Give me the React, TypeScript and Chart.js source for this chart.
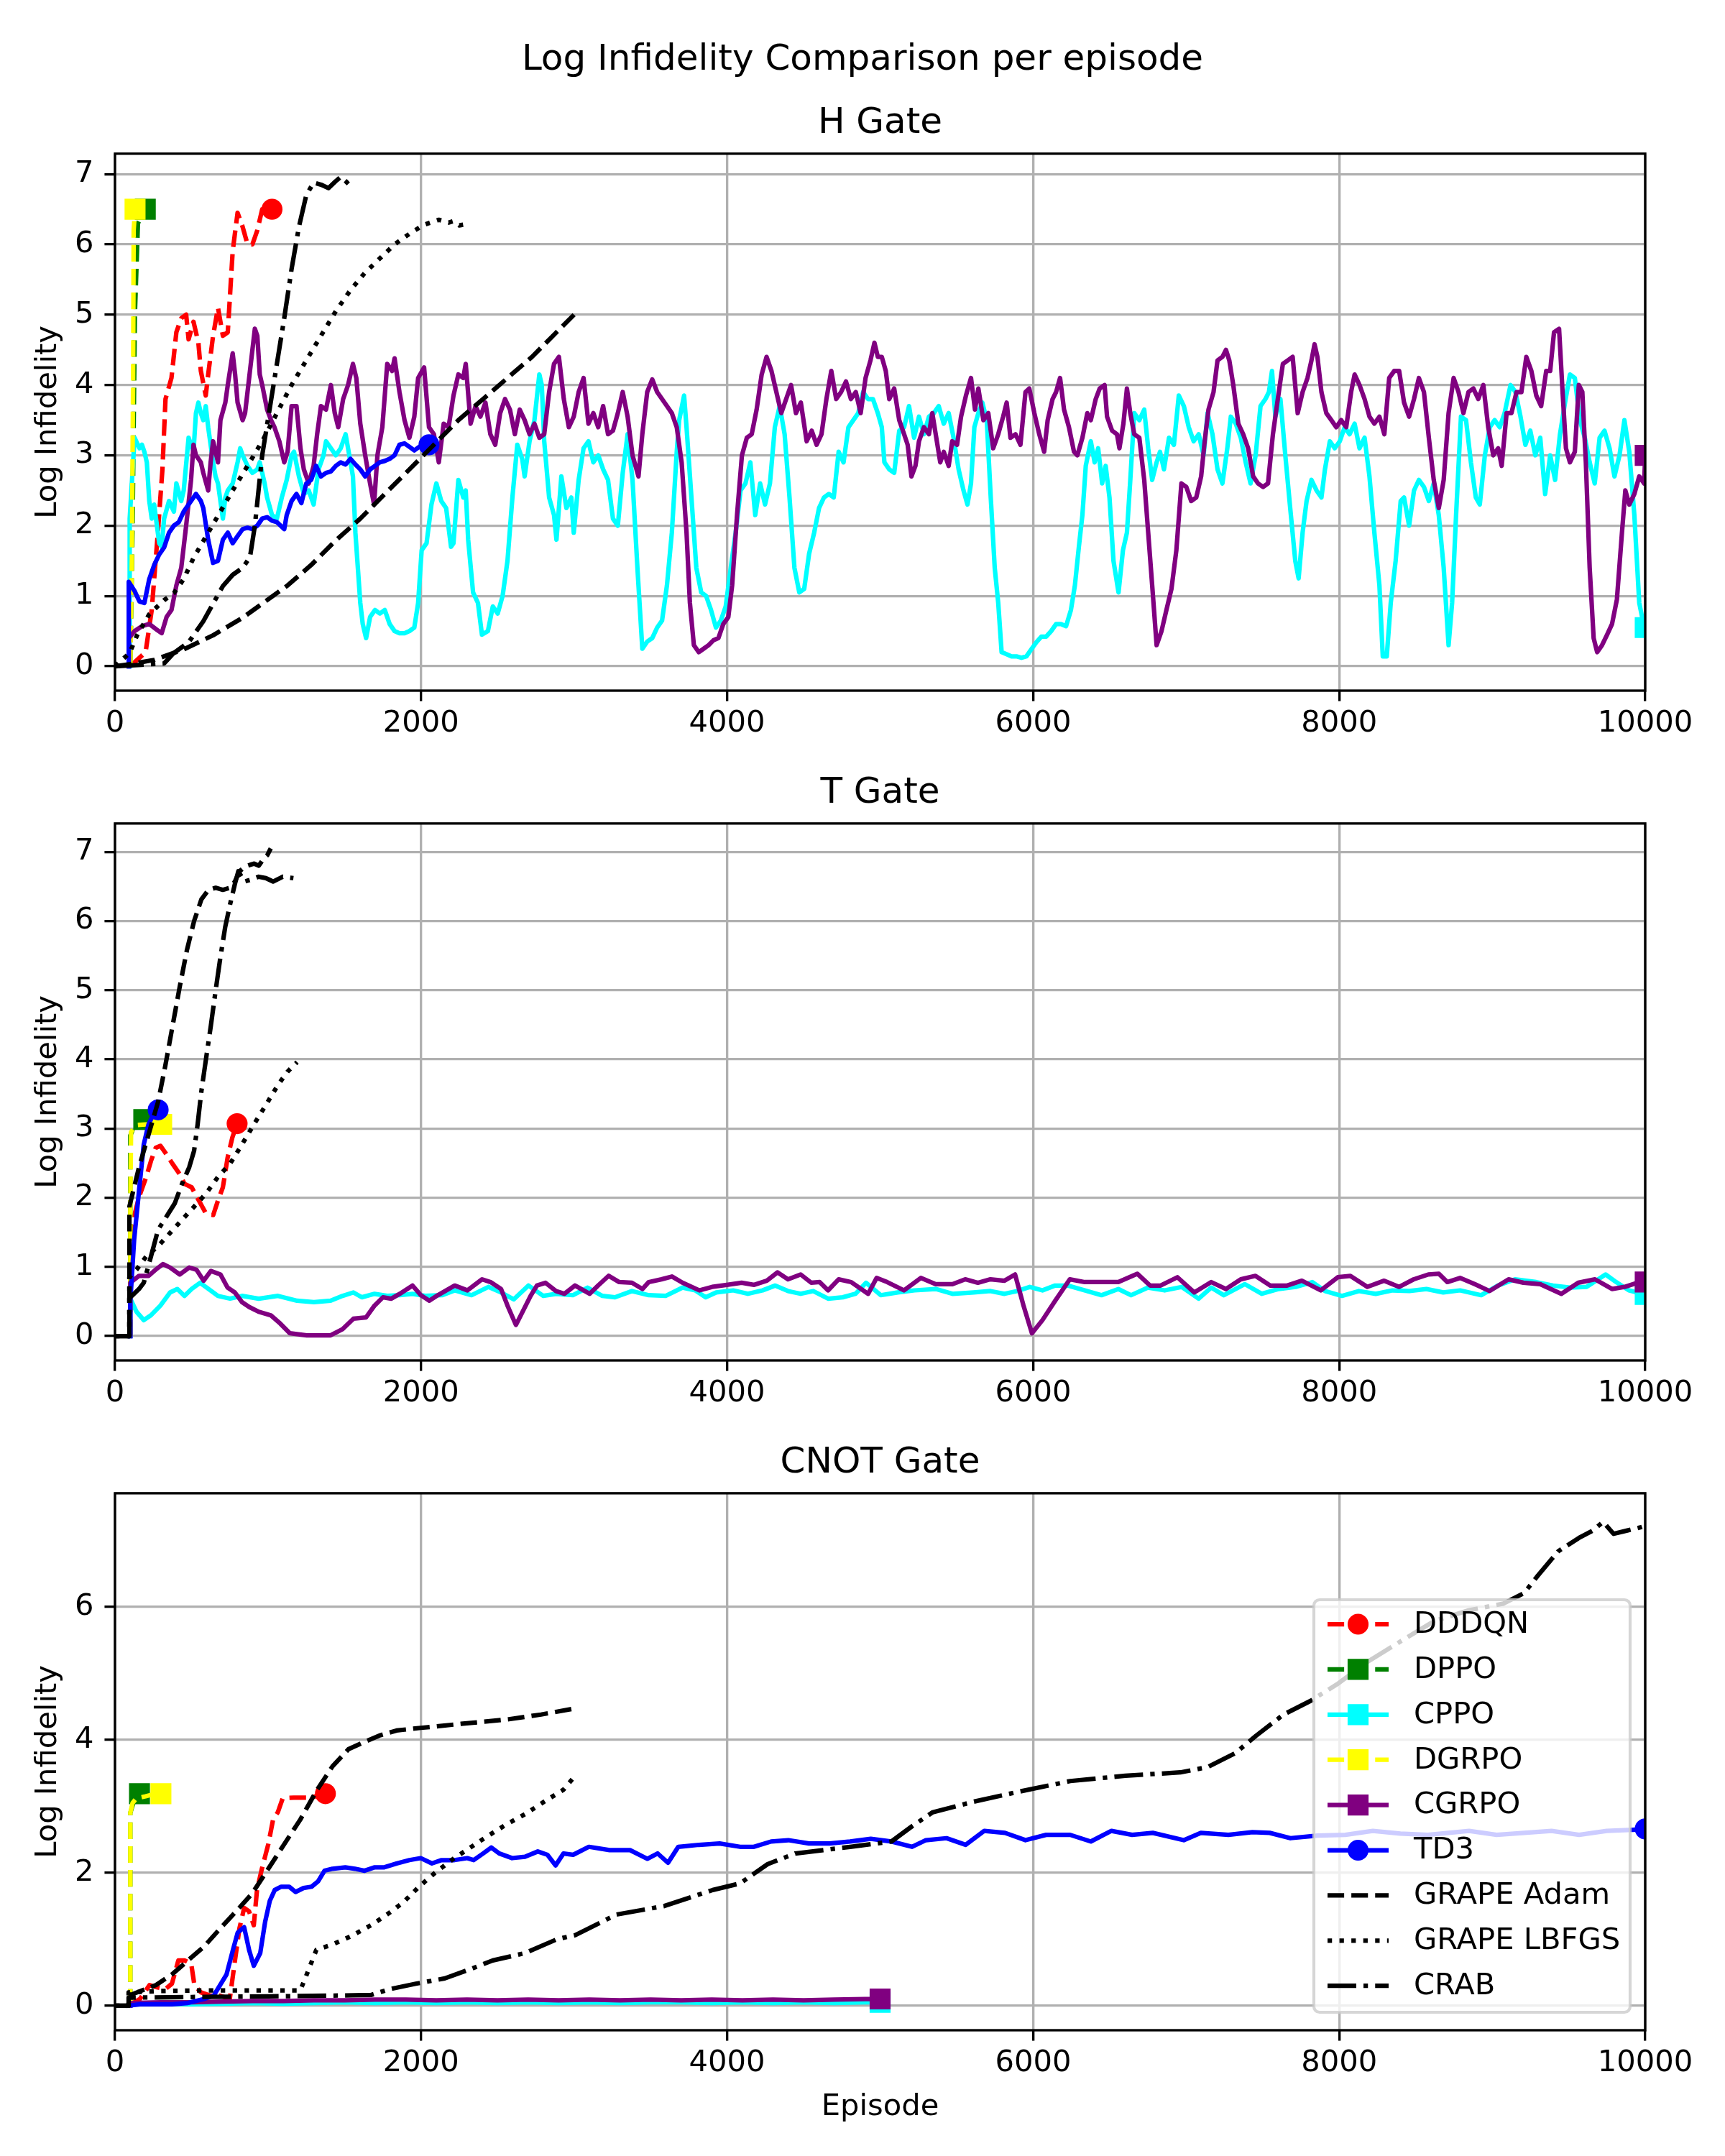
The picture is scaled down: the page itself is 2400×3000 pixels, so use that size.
import { useEffect, useRef } from 'react';
import { Chart, registerables } from 'chart.js';

Chart.register(...registerables);

type Pt = [number, number];

// series order, colours and styles (same for every gate)
const seriesNames = ['DDDQN', 'DPPO', 'CPPO', 'DGRPO', 'CGRPO', 'TD3', 'GRAPE Adam', 'GRAPE LBFGS', 'CRAB'];
const seriesColors = ['#ff0000', '#008000', '#00ffff', '#ffff00', '#800080', '#0000ff', '#000000', '#000000', '#000000'];
const seriesStyles = ['dashed', 'dashed', 'solid', 'dashed', 'solid', 'solid', 'dashed', 'dotted', 'dashdot'];
const seriesMarkers = ['circle', 'rect', 'rect', 'rect', 'rect', 'circle', '', '', ''];

const xTicks = [0, 2000, 4000, 6000, 8000, 10000];
const yTicksH = [0, 1, 2, 3, 4, 5, 6, 7];
const yTicksT = [0, 1, 2, 3, 4, 5, 6, 7];
const yTicksC = [0, 2, 4, 6];

// ---------- H Gate ----------
const hDddqn: Pt[] = [[100,0],[200,0.2],[240,0.8],[280,1.9],[310,2.8],[330,3.8],[369,4.1],[401,4.75],[433,4.95],[465,5.0],[481,4.65],[513,4.9],[545,4.6],[561,4.2],[593,3.85],[609,4.15],[641,4.7],[673,5.1],[705,4.7],[737,4.75],[769,5.9],[801,6.45],[834,6.25],[866,6.0],[898,6.0],[930,6.2],[962,6.5],[1026,6.5]];
const hDppo: Pt[] = [[100,0],[115,2.0],[130,5.0],[150,6.3],[198,6.5]];
const hCppo: Pt[] = [[96,0],[96,2.1],[128,3.25],[160,3.1],[176,3.15],[192,3.05],[208,2.9],[224,2.35],[240,2.1],[256,2.3],[289,1.75],[305,1.7],[321,2.1],[353,2.35],[385,2.2],[401,2.6],[433,2.35],[449,2.5],[481,3.25],[513,3.05],[529,3.6],[545,3.75],[561,3.6],[577,3.5],[593,3.7],[609,3.4],[625,3.15],[641,2.9],[657,2.7],[673,2.6],[689,2.35],[705,2.1],[721,2.4],[737,2.5],[769,2.6],[801,2.9],[818,3.1],[834,3.0],[866,2.85],[898,2.75],[930,2.8],[946,2.9],[962,2.75],[978,2.6],[994,2.4],[1026,2.15],[1058,2.1],[1090,2.4],[1122,2.65],[1154,3.0],[1170,3.05],[1202,2.7],[1234,2.45],[1266,2.5],[1298,2.3],[1330,2.8],[1363,3.0],[1379,3.2],[1411,3.1],[1443,3.0],[1475,3.1],[1507,3.3],[1539,2.9],[1555,2.7],[1571,1.9],[1587,1.4],[1603,0.9],[1619,0.6],[1641,0.4],[1667,0.7],[1699,0.8],[1731,0.75],[1763,0.8],[1795,0.6],[1827,0.5],[1859,0.47],[1892,0.47],[1924,0.5],[1956,0.55],[1981,0.9],[2004,1.65],[2036,1.75],[2068,2.3],[2100,2.6],[2132,2.35],[2164,2.25],[2196,1.7],[2212,1.75],[2244,2.65],[2276,2.4],[2292,2.5],[2308,1.8],[2340,1.05],[2372,0.9],[2398,0.45],[2437,0.5],[2469,0.85],[2501,0.75],[2533,1.0],[2565,1.5],[2597,2.4],[2629,3.15],[2661,2.95],[2677,2.7],[2709,3.2],[2741,3.5],[2773,4.15],[2789,4.0],[2805,3.2],[2837,2.4],[2869,2.15],[2885,1.8],[2917,2.7],[2950,2.25],[2982,2.4],[2998,1.9],[3030,2.65],[3062,3.1],[3094,3.2],[3126,2.9],[3158,3.0],[3190,2.8],[3222,2.65],[3254,2.1],[3286,2.0],[3318,2.75],[3350,3.3],[3382,2.65],[3414,1.4],[3446,0.25],[3478,0.35],[3511,0.4],[3543,0.55],[3575,0.65],[3607,1.15],[3639,1.9],[3671,3.05],[3687,3.5],[3719,3.85],[3735,3.4],[3767,2.4],[3799,1.4],[3831,1.05],[3863,1.0],[3895,0.8],[3927,0.55],[3959,0.65],[3991,0.85],[4024,1.4],[4056,1.9],[4088,2.5],[4120,2.6],[4152,2.9],[4184,2.15],[4216,2.6],[4248,2.3],[4280,2.6],[4312,3.4],[4344,3.7],[4376,3.3],[4408,2.4],[4440,1.4],[4472,1.05],[4504,1.1],[4536,1.6],[4569,1.9],[4601,2.25],[4633,2.4],[4665,2.45],[4697,2.4],[4729,3.05],[4761,2.9],[4793,3.4],[4825,3.5],[4857,3.6],[4889,3.9],[4921,3.8],[4953,3.8],[4985,3.6],[5011,3.4],[5028,2.9],[5060,2.8],[5092,2.75],[5125,3.35],[5157,3.4],[5189,3.7],[5222,3.25],[5254,3.55],[5286,3.3],[5319,3.55],[5351,3.6],[5383,3.7],[5416,3.45],[5448,3.6],[5480,3.25],[5513,2.8],[5545,2.5],[5571,2.3],[5594,2.6],[5616,3.4],[5642,3.6],[5668,3.75],[5697,3.5],[5723,2.4],[5749,1.4],[5772,0.9],[5794,0.2],[5827,0.17],[5859,0.14],[5891,0.14],[5924,0.12],[5956,0.14],[5988,0.24],[6021,0.34],[6053,0.42],[6085,0.42],[6118,0.5],[6150,0.6],[6182,0.6],[6215,0.57],[6247,0.8],[6273,1.15],[6299,1.7],[6322,2.15],[6344,2.85],[6377,3.2],[6402,2.9],[6425,3.1],[6451,2.6],[6474,2.85],[6499,2.4],[6525,1.5],[6558,1.05],[6587,1.65],[6613,1.9],[6635,2.65],[6661,3.6],[6694,3.5],[6726,3.65],[6752,3.1],[6778,2.65],[6807,2.9],[6829,3.05],[6855,2.8],[6888,3.25],[6920,3.15],[6952,3.85],[6985,3.7],[7017,3.4],[7049,3.2],[7082,3.3],[7114,3.0],[7140,3.6],[7172,3.3],[7205,2.8],[7237,2.6],[7269,3.1],[7292,3.55],[7324,3.45],[7357,3.25],[7389,2.9],[7421,2.6],[7454,3.0],[7486,3.7],[7518,3.8],[7541,3.9],[7561,4.2],[7583,3.55],[7616,3.8],[7648,3.0],[7680,2.25],[7713,1.5],[7735,1.25],[7761,1.9],[7787,2.35],[7819,2.65],[7852,2.5],[7884,2.4],[7907,2.8],[7939,3.2],[7971,3.1],[8004,3.2],[8036,3.4],[8068,3.3],[8101,3.45],[8133,3.1],[8166,3.25],[8198,2.7],[8230,1.9],[8263,1.15],[8285,0.14],[8311,0.14],[8337,0.9],[8369,1.5],[8402,2.35],[8424,2.4],[8457,2.0],[8489,2.5],[8521,2.65],[8554,2.55],[8586,2.35],[8618,2.6],[8651,2.15],[8683,1.4],[8715,0.3],[8738,0.9],[8764,2.15],[8796,3.55],[8829,3.5],[8861,2.9],[8893,2.4],[8919,2.3],[8952,3.0],[8984,3.4],[9016,3.5],[9049,3.4],[9081,3.6],[9120,4.0],[9152,3.9],[9185,3.55],[9217,3.15],[9249,3.35],[9282,3.0],[9314,3.25],[9346,2.45],[9379,3.0],[9411,2.65],[9443,3.3],[9476,3.75],[9508,4.15],[9540,4.1],[9573,3.5],[9605,3.25],[9637,2.9],[9670,2.6],[9702,3.25],[9734,3.35],[9767,3.1],[9799,2.7],[9832,3.0],[9864,3.5],[9896,3.05],[9929,2.15],[9961,0.9],[9993,0.55],[10000,0.55]];
const hDgrpo: Pt[] = [[100,0],[110,1.5],[118,4.0],[122,6.2],[131,6.5]];
const hCgrpo: Pt[] = [[90,0],[90,0.4],[128,0.5],[176,0.57],[224,0.6],[273,0.52],[305,0.47],[337,0.7],[369,0.8],[401,1.15],[433,1.4],[465,2.0],[497,2.65],[513,3.15],[529,3.0],[561,2.9],[577,2.75],[609,2.5],[625,2.9],[641,3.2],[673,2.9],[689,3.5],[721,3.75],[737,4.0],[769,4.45],[785,4.15],[801,3.75],[834,3.5],[850,3.6],[882,4.2],[914,4.8],[930,4.7],[946,4.15],[962,4.0],[994,3.65],[1020,3.5],[1042,3.4],[1074,3.2],[1106,2.9],[1128,3.05],[1154,3.7],[1186,3.7],[1212,3.1],[1234,2.8],[1266,2.6],[1298,2.85],[1321,3.3],[1346,3.7],[1379,3.65],[1411,4.0],[1436,3.6],[1459,3.4],[1491,3.8],[1523,4.0],[1555,4.3],[1577,4.1],[1603,3.45],[1635,3.0],[1667,2.6],[1693,2.3],[1715,3.0],[1747,3.4],[1779,4.3],[1811,4.2],[1827,4.38],[1859,3.9],[1892,3.5],[1924,3.25],[1956,3.55],[1981,4.1],[2020,4.25],[2052,3.4],[2084,3.3],[2116,2.9],[2148,3.45],[2180,3.4],[2212,3.85],[2244,4.15],[2276,4.1],[2292,4.3],[2324,3.45],[2356,3.7],[2388,3.55],[2421,3.75],[2453,3.3],[2485,3.15],[2517,3.6],[2549,3.8],[2581,3.65],[2613,3.3],[2645,3.65],[2677,3.5],[2709,3.3],[2741,3.45],[2773,3.25],[2805,3.3],[2837,3.9],[2869,4.3],[2901,4.4],[2933,3.8],[2966,3.4],[2998,3.55],[3030,3.9],[3062,4.1],[3094,3.45],[3126,3.6],[3158,3.4],[3190,3.7],[3222,3.3],[3254,3.35],[3286,3.6],[3318,3.9],[3350,3.55],[3382,3.0],[3421,2.7],[3446,3.3],[3478,3.9],[3511,4.08],[3543,3.9],[3575,3.8],[3607,3.7],[3639,3.6],[3671,3.4],[3703,2.9],[3735,1.9],[3757,0.9],[3783,0.3],[3815,0.2],[3847,0.25],[3879,0.3],[3911,0.37],[3943,0.4],[3975,0.6],[4008,0.7],[4033,1.15],[4065,2.15],[4097,3.0],[4129,3.25],[4161,3.3],[4193,3.65],[4226,4.15],[4258,4.4],[4290,4.2],[4322,3.9],[4354,3.6],[4386,3.8],[4418,4.0],[4450,3.6],[4482,3.75],[4520,3.2],[4553,3.35],[4585,3.15],[4617,3.3],[4649,3.8],[4681,4.2],[4713,3.8],[4745,3.9],[4777,4.05],[4809,3.8],[4841,3.9],[4873,3.6],[4905,4.1],[4937,4.35],[4963,4.6],[4985,4.4],[5011,4.4],[5037,4.2],[5060,3.8],[5092,3.95],[5125,3.5],[5157,3.3],[5180,3.15],[5205,2.7],[5231,2.85],[5254,3.2],[5286,3.4],[5319,3.3],[5341,3.6],[5367,3.25],[5393,2.9],[5416,3.05],[5448,2.85],[5471,3.2],[5503,3.15],[5529,3.55],[5561,3.85],[5594,4.1],[5620,3.65],[5642,3.95],[5675,3.5],[5707,3.6],[5739,3.1],[5772,3.3],[5804,3.55],[5827,3.75],[5852,3.25],[5885,3.3],[5917,3.15],[5950,3.9],[5975,3.95],[6008,3.6],[6040,3.3],[6072,3.05],[6095,3.5],[6127,3.8],[6150,3.9],[6176,4.1],[6202,3.65],[6234,3.4],[6267,3.05],[6289,3.0],[6322,3.25],[6354,3.6],[6377,3.5],[6409,3.8],[6435,3.95],[6467,4.0],[6483,3.55],[6516,3.35],[6548,3.3],[6564,3.1],[6590,3.45],[6613,3.95],[6635,3.6],[6661,3.3],[6694,3.25],[6726,2.65],[6752,1.9],[6778,1.15],[6807,0.3],[6839,0.5],[6871,0.8],[6904,1.1],[6936,1.65],[6969,2.6],[7001,2.55],[7033,2.35],[7066,2.4],[7098,2.7],[7121,3.2],[7146,3.65],[7179,3.9],[7205,4.35],[7237,4.4],[7260,4.5],[7282,4.35],[7308,4.0],[7341,3.45],[7373,3.3],[7405,3.1],[7438,2.7],[7470,2.6],[7502,2.55],[7535,2.6],[7567,3.3],[7599,3.8],[7632,4.3],[7664,4.35],[7696,4.4],[7729,3.6],[7761,3.9],[7793,4.1],[7819,4.35],[7839,4.58],[7858,4.4],[7884,3.9],[7916,3.6],[7949,3.5],[7981,3.4],[8013,3.5],[8046,3.4],[8078,3.9],[8101,4.15],[8133,4.0],[8166,3.8],[8198,3.55],[8230,3.45],[8263,3.55],[8295,3.3],[8327,4.1],[8360,4.2],[8392,4.2],[8424,3.75],[8457,3.55],[8489,3.8],[8521,4.1],[8554,3.9],[8586,3.25],[8618,2.65],[8651,2.25],[8683,2.65],[8715,3.6],[8748,4.1],[8780,3.9],[8812,3.6],[8845,3.9],[8877,3.95],[8909,3.8],[8942,4.0],[8974,3.4],[9007,3.0],[9039,3.1],[9062,2.85],[9094,3.6],[9126,3.6],[9159,3.9],[9191,3.9],[9223,4.4],[9256,4.2],[9288,3.85],[9320,3.7],[9353,4.2],[9379,4.2],[9404,4.75],[9437,4.8],[9460,3.9],[9482,3.1],[9508,2.9],[9540,3.05],[9566,4.0],[9589,3.9],[9612,2.9],[9637,1.4],[9663,0.4],[9686,0.2],[9718,0.3],[9751,0.45],[9783,0.6],[9815,0.95],[9848,1.9],[9870,2.5],[9896,2.3],[9929,2.45],[9961,2.7],[9993,2.6],[10000,3.0]];
const hTd3: Pt[] = [[90,0],[90,1.2],[128,1.07],[160,0.92],[192,0.9],[224,1.24],[256,1.44],[289,1.59],[321,1.69],[353,1.9],[385,2.0],[417,2.05],[449,2.2],[481,2.3],[513,2.4],[529,2.45],[561,2.35],[577,2.25],[609,1.8],[641,1.47],[673,1.5],[705,1.8],[737,1.9],[769,1.75],[801,1.85],[834,1.95],[866,1.97],[898,1.95],[930,2.0],[962,2.1],[994,2.12],[1026,2.07],[1058,2.05],[1106,1.95],[1122,2.15],[1154,2.35],[1186,2.45],[1218,2.32],[1250,2.6],[1282,2.65],[1314,2.85],[1346,2.7],[1379,2.75],[1411,2.77],[1443,2.85],[1475,2.9],[1507,2.87],[1539,2.95],[1571,2.87],[1603,2.8],[1635,2.7],[1667,2.8],[1699,2.85],[1731,2.9],[1763,2.92],[1795,2.95],[1827,3.0],[1859,3.15],[1892,3.17],[1924,3.12],[1956,3.07],[1988,3.12],[2052,3.15]];
const hAdam: Pt[] = [[0,0],[100,0.03],[256,0.09],[449,0.24],[641,0.44],[834,0.69],[962,0.89],[1122,1.14],[1282,1.44],[1443,1.79],[1603,2.1],[1763,2.45],[1924,2.8],[2084,3.15],[2244,3.5],[2405,3.8],[2565,4.1],[2725,4.4],[2885,4.75],[3000,5.0]];
const hLbfgs: Pt[] = [[0,0],[96,0.19],[144,0.44],[224,0.74],[321,0.94],[385,1.04],[449,1.24],[513,1.54],[609,1.9],[689,2.2],[769,2.5],[866,2.85],[962,3.2],[1058,3.6],[1154,4.0],[1250,4.35],[1346,4.7],[1443,5.05],[1539,5.35],[1635,5.6],[1731,5.8],[1827,6.0],[1924,6.15],[2020,6.28],[2116,6.35],[2180,6.31],[2212,6.33],[2250,6.27],[2276,6.28]];
const hCrab: Pt[] = [[0,0],[321,0.04],[385,0.19],[481,0.34],[577,0.64],[641,0.89],[705,1.14],[769,1.3],[834,1.4],[882,1.55],[914,2.0],[962,3.0],[1010,3.65],[1058,4.3],[1106,4.95],[1154,5.65],[1202,6.25],[1250,6.7],[1298,6.88],[1346,6.85],[1395,6.8],[1443,6.9],[1475,6.96],[1507,6.9],[1539,6.83]];

// ---------- T Gate ----------
const tDddqn: Pt[] = [[100,0],[100,1.2],[102,1.49],[125,1.73],[157,2.01],[204,2.3],[235,2.53],[266,2.72],[297,2.75],[329,2.65],[376,2.49],[423,2.34],[454,2.2],[501,2.15],[548,1.96],[595,1.77],[642,1.75],[673,1.96],[705,2.15],[736,2.58],[767,2.87],[798,3.07]];
const tDppo: Pt[] = [[100,0],[100,2.9],[130,3.05],[188,3.13]];
const tCppo: Pt[] = [[100,0],[100,0.54],[141,0.35],[188,0.23],[235,0.3],[297,0.44],[360,0.63],[407,0.68],[454,0.58],[501,0.68],[556,0.77],[611,0.68],[673,0.58],[752,0.54],[830,0.58],[939,0.54],[1065,0.58],[1190,0.51],[1300,0.49],[1409,0.51],[1487,0.58],[1558,0.63],[1613,0.56],[1696,0.61],[1779,0.58],[1861,0.59],[1944,0.61],[2027,0.58],[2137,0.59],[2220,0.66],[2330,0.59],[2440,0.71],[2523,0.63],[2606,0.53],[2702,0.73],[2799,0.58],[2882,0.61],[2992,0.59],[3088,0.7],[3185,0.58],[3267,0.56],[3378,0.65],[3488,0.59],[3598,0.58],[3709,0.7],[3791,0.66],[3860,0.56],[3929,0.63],[4040,0.66],[4136,0.61],[4232,0.66],[4315,0.73],[4398,0.65],[4481,0.61],[4563,0.65],[4660,0.54],[4756,0.56],[4839,0.61],[4908,0.77],[5004,0.59],[5115,0.63],[5225,0.66],[5363,0.68],[5473,0.61],[5611,0.63],[5721,0.65],[5813,0.61],[5895,0.65],[5978,0.71],[6061,0.66],[6144,0.73],[6226,0.73],[6337,0.66],[6447,0.59],[6557,0.68],[6640,0.59],[6750,0.7],[6860,0.66],[6971,0.71],[7081,0.54],[7164,0.7],[7246,0.59],[7384,0.75],[7494,0.61],[7605,0.68],[7715,0.71],[7825,0.78],[7908,0.65],[8018,0.58],[8129,0.65],[8239,0.61],[8349,0.66],[8459,0.65],[8570,0.68],[8680,0.63],[8790,0.66],[8928,0.59],[9038,0.73],[9149,0.82],[9287,0.78],[9397,0.73],[9507,0.7],[9617,0.71],[9741,0.89],[9810,0.78],[9893,0.66],[10000,0.6]];
const tDgrpo: Pt[] = [[100,0],[100,1.85],[105,2.95],[140,3.05],[200,3.06],[305,3.06]];
const tCgrpo: Pt[] = [[100,0],[100,0.77],[157,0.87],[219,0.87],[266,0.96],[313,1.04],[360,0.99],[423,0.89],[485,0.99],[532,0.96],[579,0.8],[626,0.94],[689,0.89],[736,0.7],[783,0.63],[830,0.49],[877,0.42],[939,0.35],[1018,0.3],[1080,0.18],[1143,0.04],[1253,0.01],[1409,0.01],[1487,0.1],[1558,0.25],[1641,0.27],[1696,0.44],[1751,0.56],[1806,0.54],[1861,0.61],[1944,0.73],[1999,0.59],[2054,0.51],[2110,0.59],[2220,0.73],[2303,0.66],[2399,0.82],[2454,0.78],[2523,0.68],[2565,0.44],[2620,0.16],[2661,0.34],[2716,0.58],[2757,0.73],[2813,0.77],[2882,0.65],[2937,0.61],[3006,0.73],[3102,0.61],[3157,0.73],[3226,0.87],[3295,0.78],[3378,0.77],[3447,0.68],[3488,0.78],[3571,0.82],[3640,0.86],[3709,0.77],[3819,0.66],[3902,0.71],[3998,0.74],[4095,0.77],[4177,0.74],[4260,0.8],[4329,0.92],[4398,0.82],[4481,0.89],[4550,0.77],[4605,0.78],[4660,0.66],[4729,0.82],[4811,0.78],[4922,0.61],[4977,0.84],[5046,0.78],[5156,0.66],[5266,0.84],[5363,0.75],[5473,0.75],[5556,0.82],[5639,0.77],[5721,0.82],[5813,0.8],[5882,0.89],[5937,0.44],[5992,0.04],[6061,0.23],[6144,0.51],[6240,0.82],[6337,0.78],[6447,0.78],[6557,0.78],[6681,0.9],[6764,0.73],[6833,0.73],[6943,0.85],[7053,0.63],[7164,0.78],[7260,0.68],[7357,0.82],[7453,0.87],[7550,0.73],[7660,0.73],[7756,0.8],[7880,0.66],[7991,0.85],[8073,0.87],[8184,0.71],[8294,0.8],[8391,0.71],[8487,0.82],[8583,0.89],[8652,0.9],[8707,0.78],[8790,0.84],[8887,0.75],[8983,0.65],[9107,0.82],[9204,0.77],[9314,0.75],[9452,0.61],[9562,0.77],[9672,0.82],[9783,0.68],[9865,0.71],[9948,0.77],[10000,0.78]];
const tTd3: Pt[] = [[100,0],[100,0.5],[125,1.39],[157,2.1],[188,2.77],[219,3.06],[250,3.2],[282,3.27]];
const tAdam: Pt[] = [[0,0],[94,0],[94,1.87],[157,2.44],[219,2.91],[282,3.39],[329,3.91],[376,4.48],[423,5.05],[470,5.58],[517,6.0],[564,6.31],[611,6.45],[658,6.48],[705,6.45],[752,6.48],[783,6.57],[814,6.72],[853,6.79],[908,6.83],[940,6.8],[971,6.9],[995,6.95],[1018,7.05]];
const tLbfgs: Pt[] = [[0,0],[94,0],[94,0.85],[141,0.96],[204,1.15],[282,1.3],[360,1.49],[438,1.68],[517,1.87],[595,2.06],[673,2.3],[752,2.49],[830,2.77],[908,3.06],[986,3.34],[1065,3.63],[1127,3.82],[1190,3.96]];
const tCrab: Pt[] = [[0,0],[94,0],[94,0.55],[110,0.58],[157,0.68],[188,0.77],[235,1.15],[282,1.54],[329,1.7],[391,1.92],[438,2.2],[485,2.44],[517,2.68],[540,3.06],[564,3.53],[595,4.01],[626,4.48],[658,5.0],[689,5.48],[720,5.91],[752,6.24],[783,6.53],[806,6.72],[845,6.57],[892,6.6],[939,6.64],[986,6.62],[1033,6.57],[1096,6.64],[1166,6.62]];

// ---------- CNOT Gate ----------
const cDddqn: Pt[] = [[89,0],[163,0.1],[226,0.31],[268,0.28],[330,0.25],[372,0.33],[414,0.68],[456,0.68],[498,0.63],[519,0.31],[561,0.2],[624,0.15],[687,0.15],[750,0.1],[781,0.63],[813,1.16],[844,1.47],[876,1.42],[907,1.21],[928,1.74],[960,2.06],[1002,2.43],[1033,2.8],[1064,2.91],[1096,3.12],[1169,3.13],[1253,3.13],[1316,3.15],[1375,3.19]];
const cDppo: Pt[] = [[100,0],[100,2.9],[120,3.05],[160,3.19]];
const cCppo: Pt[] = [[100,0],[100,0.02],[300,0.03],[500,0.02],[700,0.03],[900,0.04],[1100,0.03],[1300,0.04],[1500,0.05],[1700,0.04],[1900,0.05],[2100,0.04],[2300,0.05],[2500,0.04],[2700,0.05],[2900,0.04],[3100,0.05],[3300,0.04],[3500,0.05],[3700,0.05],[3900,0.04],[4100,0.05],[4300,0.04],[4500,0.05],[4700,0.04],[4900,0.05],[5000,0.05]];
const cDgrpo: Pt[] = [[100,0],[100,2.9],[115,3.05],[140,3.12],[200,3.15],[250,3.18],[300,3.19]];
const cCgrpo: Pt[] = [[100,0],[100,0.04],[300,0.05],[500,0.05],[700,0.06],[900,0.07],[1100,0.07],[1300,0.08],[1500,0.08],[1700,0.09],[1900,0.09],[2100,0.08],[2300,0.09],[2500,0.08],[2700,0.09],[2900,0.08],[3100,0.09],[3300,0.08],[3500,0.09],[3700,0.08],[3900,0.09],[4100,0.08],[4300,0.09],[4500,0.08],[4700,0.09],[4900,0.1],[5000,0.1]];
const cTd3: Pt[] = [[89,0],[163,0.02],[372,0.02],[477,0.04],[582,0.1],[645,0.15],[687,0.31],[729,0.47],[771,0.84],[802,1.1],[844,1.18],[876,0.84],[907,0.6],[949,0.79],[981,1.26],[1012,1.58],[1044,1.74],[1086,1.79],[1138,1.79],[1180,1.71],[1232,1.77],[1285,1.79],[1327,1.87],[1369,2.03],[1421,2.06],[1505,2.08],[1568,2.06],[1631,2.03],[1694,2.08],[1756,2.08],[1840,2.14],[1924,2.19],[1998,2.22],[2071,2.14],[2134,2.19],[2218,2.19],[2302,2.22],[2344,2.19],[2406,2.29],[2459,2.38],[2511,2.29],[2595,2.22],[2679,2.24],[2763,2.32],[2826,2.27],[2879,2.11],[2931,2.29],[2994,2.27],[3097,2.39],[3232,2.34],[3366,2.34],[3479,2.21],[3546,2.29],[3614,2.15],[3681,2.39],[3816,2.42],[3951,2.44],[4085,2.39],[4175,2.39],[4288,2.47],[4400,2.49],[4535,2.44],[4670,2.44],[4804,2.47],[4939,2.51],[5074,2.47],[5209,2.39],[5299,2.49],[5434,2.52],[5559,2.42],[5681,2.63],[5816,2.6],[5950,2.49],[6085,2.57],[6242,2.57],[6377,2.47],[6512,2.63],[6647,2.57],[6782,2.6],[6984,2.49],[7096,2.6],[7276,2.57],[7433,2.61],[7546,2.6],[7681,2.52],[7860,2.56],[8040,2.57],[8220,2.63],[8400,2.59],[8579,2.57],[8849,2.63],[9029,2.57],[9209,2.6],[9388,2.63],[9568,2.57],[9748,2.63],[9973,2.65],[10000,2.66]];
const cAdam: Pt[] = [[0,0],[89,0],[89,0.15],[268,0.31],[372,0.47],[477,0.68],[582,0.89],[687,1.16],[792,1.42],[897,1.69],[1002,2.06],[1106,2.43],[1211,2.8],[1316,3.23],[1421,3.6],[1526,3.86],[1631,3.97],[1735,4.07],[1840,4.14],[1998,4.18],[2260,4.24],[2574,4.31],[2784,4.38],[3000,4.47]];
const cLbfgs: Pt[] = [[0,0],[89,0],[89,0.2],[300,0.22],[600,0.23],[900,0.23],[1211,0.23],[1253,0.47],[1316,0.84],[1421,0.92],[1547,1.05],[1673,1.21],[1777,1.37],[1882,1.55],[1987,1.79],[2092,2.0],[2218,2.22],[2323,2.38],[2427,2.54],[2553,2.72],[2679,2.88],[2805,3.07],[2931,3.25],[3000,3.44]];
const cCrab: Pt[] = [[0,0],[89,0],[89,0.12],[500,0.13],[1000,0.14],[1400,0.15],[1673,0.16],[1798,0.25],[1966,0.33],[2155,0.41],[2323,0.55],[2469,0.68],[2679,0.79],[2889,1.0],[3007,1.06],[3276,1.37],[3591,1.5],[3906,1.74],[4085,1.84],[4265,2.13],[4445,2.29],[4804,2.39],[5074,2.47],[5209,2.7],[5344,2.91],[5613,3.07],[5928,3.23],[6243,3.38],[6602,3.46],[6962,3.51],[7141,3.59],[7321,3.8],[7456,4.06],[7636,4.38],[7816,4.59],[7995,4.85],[8175,5.16],[8400,5.48],[8624,5.79],[8849,5.95],[9074,6.05],[9209,6.21],[9298,6.47],[9433,6.84],[9568,7.04],[9658,7.15],[9725,7.28],[9793,7.1],[9883,7.15],[9973,7.2],[10000,7.22]];

const hSeries = [hDddqn, hDppo, hCppo, hDgrpo, hCgrpo, hTd3, hAdam, hLbfgs, hCrab];
const tSeries = [tDddqn, tDppo, tCppo, tDgrpo, tCgrpo, tTd3, tAdam, tLbfgs, tCrab];
const cSeries = [cDddqn, cDppo, cCppo, cDgrpo, cCgrpo, cTd3, cAdam, cLbfgs, cCrab];

// 300 dpi figure: 1pt = 300/72 px
const PT = 300 / 72;
const LW = 1.5 * PT;
const FS = 10 * PT;
const FONT = { family: '"DejaVu Sans"', size: FS };
const DASHES: Record<string, number[]> = {
  solid: [],
  dashed: [3.7 * LW, 1.6 * LW],
  dotted: [1 * LW, 1.65 * LW],
  dashdot: [6.4 * LW, 1.6 * LW, 1 * LW, 1.6 * LW],
};

function markerRadius(style: string) {
  // markersize 6pt; chart.js rect side = radius * sqrt(2)
  return style === 'rect' ? (3 * PT) / Math.SQRT1_2 : 3 * PT;
}

function drawMarker(ctx: CanvasRenderingContext2D, style: string, x: number, y: number, color: string) {
  ctx.save();
  ctx.setLineDash([]);
  ctx.fillStyle = color;
  ctx.strokeStyle = color;
  ctx.lineWidth = PT;
  ctx.beginPath();
  if (style === 'circle') {
    ctx.arc(x, y, 3 * PT, 0, Math.PI * 2);
  } else {
    ctx.rect(x - 3 * PT, y - 3 * PT, 6 * PT, 6 * PT);
  }
  ctx.fill();
  ctx.stroke();
  ctx.restore();
}

const spinePlugin = {
  id: 'spines',
  afterDatasetsDraw(chart: any) {
    const { ctx, chartArea: a } = chart;
    ctx.save();
    ctx.strokeStyle = '#000';
    ctx.lineWidth = 0.8 * PT;
    ctx.setLineDash([]);
    ctx.strokeRect(a.left, a.top, a.right - a.left, a.bottom - a.top);
    ctx.restore();
  },
};

const legendPlugin = {
  id: 'mplLegend',
  afterDraw(chart: any) {
    const { ctx, chartArea: a } = chart;
    const w = 440;
    const h = 574;
    const right = a.right - 21;
    const bottom = a.bottom - 25;
    const left = right - w;
    const top = bottom - h;
    const r = 8;
    ctx.save();
    ctx.beginPath();
    ctx.moveTo(left + r, top);
    ctx.arcTo(right, top, right, bottom, r);
    ctx.arcTo(right, bottom, left, bottom, r);
    ctx.arcTo(left, bottom, left, top, r);
    ctx.arcTo(left, top, right, top, r);
    ctx.closePath();
    ctx.fillStyle = 'rgba(255,255,255,0.8)';
    ctx.fill();
    ctx.strokeStyle = 'rgba(204,204,204,0.8)';
    ctx.lineWidth = PT;
    ctx.stroke();

    seriesNames.forEach((name, i) => {
      const y = top + 34 + i * 62.9;
      const x0 = left + 19;
      const x1 = left + 104;
      ctx.beginPath();
      ctx.setLineDash(DASHES[seriesStyles[i]]);
      ctx.lineCap = 'butt';
      ctx.strokeStyle = seriesColors[i];
      ctx.lineWidth = LW;
      ctx.moveTo(x0, y);
      ctx.lineTo(x1, y);
      ctx.stroke();
      if (seriesMarkers[i]) drawMarker(ctx, seriesMarkers[i], (x0 + x1) / 2, y, seriesColors[i]);
      ctx.setLineDash([]);
      ctx.fillStyle = '#000';
      ctx.font = `${FS}px "DejaVu Sans"`;
      ctx.textAlign = 'left';
      ctx.textBaseline = 'middle';
      ctx.fillText(name, left + 139, y + 1);
    });
    ctx.restore();
  },
};

type PanelProps = {
  series: Pt[][];
  top: number;
  yMin: number;
  yMax: number;
  yTicks: number[];
  last?: boolean;
};

function GatePanel({ series, top, yMin, yMax, yTicks, last }: PanelProps) {
  const canvasRef = useRef<HTMLCanvasElement>(null);
  const chartRef = useRef<Chart | null>(null);
  const xAxisH = last ? 135 : 90;
  const height = 20 + 749 + xAxisH + 10;

  useEffect(() => {
    if (!canvasRef.current) return;
    if (chartRef.current) chartRef.current.destroy();

    const datasets = series.map((pts, i) => {
      const marker = seriesMarkers[i];
      const lastIdx = pts.length - 1;
      return {
        label: seriesNames[i],
        data: pts.map(([x, y]) => ({ x, y })),
        borderColor: seriesColors[i],
        backgroundColor: seriesColors[i],
        borderWidth: LW,
        borderDash: DASHES[seriesStyles[i]],
        borderCapStyle: seriesStyles[i] === 'solid' ? 'square' : 'butt',
        borderJoinStyle: 'round',
        tension: 0,
        fill: false,
        pointStyle: marker || 'circle',
        pointRadius: (c: any) => (marker && c.dataIndex === lastIdx ? markerRadius(marker) : 0),
        pointHoverRadius: 0,
        pointBorderWidth: PT,
        pointBorderColor: seriesColors[i],
        pointBackgroundColor: seriesColors[i],
        clip: 0,
        order: 20 - i,
      };
    });

    chartRef.current = new Chart(canvasRef.current, {
      type: 'line',
      data: { datasets: datasets as any },
      options: {
        animation: false,
        responsive: false,
        devicePixelRatio: 1,
        events: [],
        layout: { padding: { left: 42, right: 111, top: 20, bottom: 10 } },
        plugins: {
          legend: { display: false },
          tooltip: { enabled: false },
        },
        scales: {
          x: {
            type: 'linear',
            min: 0,
            max: 10000,
            afterBuildTicks: (s: any) => {
              s.ticks = xTicks.map((v) => ({ value: v }));
            },
            afterFit: (s: any) => {
              s.height = xAxisH;
              s.paddingLeft = 0;
              s.paddingRight = 0;
            },
            grid: { color: '#b0b0b0', lineWidth: 0.8 * PT, tickColor: '#000', tickWidth: 0.8 * PT, tickLength: 3.5 * PT },
            border: { display: false },
            ticks: { color: '#000', font: FONT, padding: 7, maxRotation: 0, autoSkip: false, callback: (v: any) => String(v) },
            title: { display: !!last, text: 'Episode', color: '#000', font: FONT, padding: { top: 0, bottom: 3 } },
          },
          y: {
            type: 'linear',
            min: yMin,
            max: yMax,
            afterBuildTicks: (s: any) => {
              s.ticks = yTicks.map((v) => ({ value: v }));
            },
            afterFit: (s: any) => {
              s.width = 118;
              s.paddingTop = 0;
              s.paddingBottom = 0;
            },
            grid: { color: '#b0b0b0', lineWidth: 0.8 * PT, tickColor: '#000', tickWidth: 0.8 * PT, tickLength: 3.5 * PT },
            border: { display: false },
            ticks: { color: '#000', font: FONT, padding: 15, callback: (v: any) => String(v) },
            title: { display: true, text: 'Log Infidelity', color: '#000', font: FONT, padding: { top: 0, bottom: 0 } },
          },
        },
      },
      plugins: last ? [spinePlugin, legendPlugin] : [spinePlugin],
    });

    return () => {
      if (chartRef.current) {
        chartRef.current.destroy();
        chartRef.current = null;
      }
    };
  }, [series, yMin, yMax, yTicks, last, xAxisH]);

  return (
    <canvas
      ref={canvasRef}
      width={2400}
      height={height}
      style={{ position: 'absolute', left: 0, top, width: 2400, height }}
    />
  );
}

const titleStyle = (x: number, y: number, size: number): React.CSSProperties => ({
  position: 'absolute',
  left: x,
  top: y,
  transform: 'translate(-50%, -50%)',
  fontFamily: '"DejaVu Sans"',
  fontSize: size,
  lineHeight: 1,
  whiteSpace: 'nowrap',
  color: '#000',
});

export default function App() {
  return (
    <div style={{ position: 'absolute', left: 0, top: 0, width: 2400, height: 3000, background: '#fff', overflow: 'hidden' }}>
      <div style={titleStyle(1200, 80, 12 * PT)}>Log Infidelity Comparison per episode</div>
      <div style={titleStyle(1224.5, 168, 12 * PT)}>H Gate</div>
      <div style={titleStyle(1224.5, 1100, 12 * PT)}>T Gate</div>
      <div style={titleStyle(1224.5, 2032, 12 * PT)}>CNOT Gate</div>
      <GatePanel series={hSeries} top={192} yMin={-0.347} yMax={7.29} yTicks={yTicksH} />
      <GatePanel series={tSeries} top={1124} yMin={-0.353} yMax={7.41} yTicks={yTicksT} />
      <GatePanel series={cSeries} top={2056} yMin={-0.37} yMax={7.71} yTicks={yTicksC} last />
    </div>
  );
}
